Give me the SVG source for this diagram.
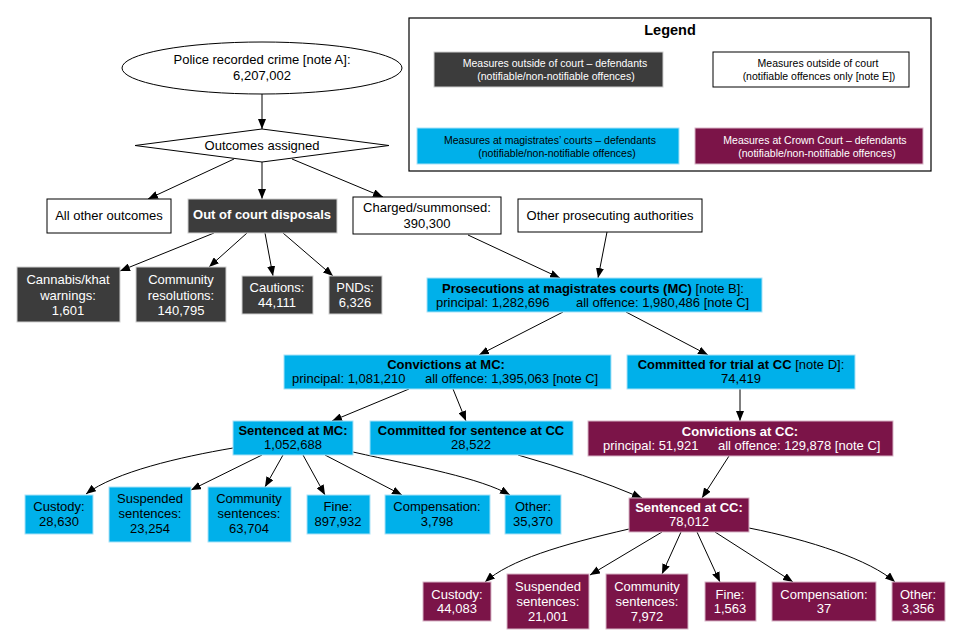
<svg xmlns="http://www.w3.org/2000/svg" width="960" height="640" viewBox="0 0 960 640">
<defs>
<marker id="ah" markerWidth="10" markerHeight="8" refX="10" refY="4" orient="auto" markerUnits="userSpaceOnUse">
<path d="M0,0 L10,4 L0,8 z" fill="#000"/>
</marker>
<style>
text{font-family:"Liberation Sans",Arial,sans-serif;font-size:13px;text-anchor:middle;fill:#000}
.b{font-weight:bold}
.w{fill:#fff}
.s{text-anchor:start}
.lg{font-size:10.5px}
.white{fill:#fff;stroke:#000;stroke-width:1}
.dark{fill:#3c3c3c;stroke:#cfcfcf;stroke-width:1}
.mc{fill:#00b0ea;stroke:#a8e2f7;stroke-width:1}
.cc{fill:#7b1448;stroke:#d7b4c6;stroke-width:1}
.e path,.e line{fill:none;stroke:#000;stroke-width:1;marker-end:url(#ah)}
</style>
</defs>
<rect width="960" height="640" fill="#fff"/>

<g id="legend">
<rect x="409" y="18" width="522" height="153" fill="#fff" stroke="#000" stroke-width="1.2"/>
<text x="670" y="35" class="b" style="font-size:14.5px">Legend</text>
<rect x="434" y="52" width="229" height="35" class="dark"/>
<text x="555" y="67" class="lg w">Measures outside of court – defendants</text>
<text x="556" y="80" class="lg w">(notifiable/non-notifiable offences)</text>
<rect x="713" y="52" width="196" height="35" class="white"/>
<text x="818" y="67" class="lg">Measures outside of court</text>
<text x="819" y="80" class="lg">(notifiable offences only [note E])</text>
<rect x="417" y="128" width="262" height="36" class="mc"/>
<text x="550" y="144" class="lg">Measures at magistrates’ courts – defendants</text>
<text x="557" y="157" class="lg">(notifiable/non-notifiable offences)</text>
<rect x="695" y="128" width="228" height="36" class="cc"/>
<text x="815" y="144" class="lg w">Measures at Crown Court – defendants</text>
<text x="817" y="157" class="lg w">(notifiable/non-notifiable offences)</text>
</g>

<g id="connectors" class="e">
<line x1="262" y1="94" x2="262" y2="129"/>
<line x1="234" y1="159" x2="148" y2="199"/>
<line x1="262" y1="162" x2="262" y2="199"/>
<line x1="292" y1="159" x2="383" y2="197"/>
<line x1="214" y1="233" x2="120" y2="271"/>
<line x1="247" y1="233" x2="209" y2="267"/>
<line x1="265" y1="233" x2="273" y2="276"/>
<line x1="283" y1="233" x2="333" y2="276"/>
<line x1="468" y1="235" x2="560" y2="278"/>
<line x1="607" y1="232" x2="598" y2="278"/>
<line x1="563" y1="312" x2="479" y2="355"/>
<line x1="626" y1="312" x2="708" y2="355"/>
<line x1="409" y1="389" x2="332" y2="421"/>
<line x1="453" y1="389" x2="466" y2="421"/>
<line x1="740" y1="389" x2="740" y2="421"/>
<line x1="729" y1="456" x2="702" y2="498"/>
<path d="M518,455 Q585,474 642,498"/>
<path d="M233,448 C180,457 115,472 86,494"/>
<line x1="262" y1="455" x2="191" y2="490"/>
<line x1="283" y1="455" x2="265" y2="487"/>
<line x1="303" y1="455" x2="325" y2="495"/>
<line x1="325" y1="455" x2="402" y2="495"/>
<path d="M353,452 C420,467 480,478 510,495"/>
<path d="M629,529 C560,545 510,560 485,582"/>
<line x1="662" y1="532" x2="590" y2="575"/>
<line x1="681" y1="532" x2="662" y2="574"/>
<line x1="697" y1="532" x2="720" y2="582"/>
<line x1="715" y1="532" x2="793" y2="582"/>
<path d="M749,528 C810,540 870,560 895,582"/>
</g>

<g id="crime">
<ellipse cx="262" cy="68" rx="140" ry="26" fill="#fff" stroke="#000" stroke-width="1"/>
<text x="262" y="64">Police recorded crime [note A]:</text>
<text x="262" y="80">6,207,002</text>
</g>
<g id="outcomes">
<polygon points="135,145.5 262,129 389,145.5 262,162" fill="#fff" stroke="#000" stroke-width="1"/>
<text x="262" y="150">Outcomes assigned</text>
</g>
<g id="other-outcomes">
<rect x="47" y="199" width="124" height="34" class="white"/>
<text x="109" y="220">All other outcomes</text>
</g>
<g id="ocd">
<rect x="188" y="199" width="149" height="34" class="dark"/>
<text x="262" y="219" class="b w">Out of court disposals</text>
</g>
<g id="charged">
<rect x="353" y="197" width="148" height="37" class="white"/>
<text x="427" y="212">Charged/summonsed:</text>
<text x="427" y="228">390,300</text>
</g>
<g id="other-prosecuting">
<rect x="518" y="199" width="184" height="33" class="white"/>
<text x="610" y="220">Other prosecuting authorities</text>
</g>
<g id="cannabis">
<rect x="17" y="267" width="103" height="55" class="dark"/>
<text x="68" y="284" class="w">Cannabis/khat</text>
<text x="68" y="300" class="w">warnings:</text>
<text x="68" y="315" class="w">1,601</text>
</g>
<g id="community-resolutions">
<rect x="136" y="267" width="90" height="55" class="dark"/>
<text x="181" y="284" class="w">Community</text>
<text x="181" y="300" class="w">resolutions:</text>
<text x="181" y="315" class="w">140,795</text>
</g>
<g id="cautions">
<rect x="242" y="276" width="71" height="38" class="dark"/>
<text x="277" y="292" class="w">Cautions:</text>
<text x="277" y="307" class="w">44,111</text>
</g>
<g id="pnds">
<rect x="329" y="276" width="53" height="38" class="dark"/>
<text x="355" y="292" class="w">PNDs:</text>
<text x="355" y="307" class="w">6,326</text>
</g>
<g id="prosecutions">
<rect x="427" y="278" width="335" height="34" class="mc"/>
<text x="593" y="293"><tspan class="b">Prosecutions at magistrates courts (MC)</tspan> [note B]:</text>
<text x="436" y="307" class="s">principal: 1,282,696</text>
<text x="576" y="307" class="s">all offence: 1,980,486 [note C]</text>
</g>
<g id="convictions-mc">
<rect x="284" y="355" width="327" height="34" class="mc"/>
<text x="446" y="369" class="b">Convictions at MC:</text>
<text x="292" y="383" class="s">principal: 1,081,210</text>
<text x="425" y="383" class="s">all offence: 1,395,063 [note C]</text>
</g>
<g id="committed-trial">
<rect x="627" y="355" width="228" height="34" class="mc"/>
<text x="741" y="369"><tspan class="b">Committed for trial at CC</tspan> [note D]:</text>
<text x="741" y="383">74,419</text>
</g>
<g id="sentenced-mc">
<rect x="233" y="421" width="120" height="34" class="mc"/>
<text x="293" y="435" class="b">Sentenced at MC:</text>
<text x="293" y="449">1,052,688</text>
</g>
<g id="committed-sentence">
<rect x="370" y="421" width="203" height="34" class="mc"/>
<text x="471" y="435" class="b">Committed for sentence at CC</text>
<text x="471" y="449">28,522</text>
</g>
<g id="convictions-cc">
<rect x="588" y="421" width="305" height="35" class="cc"/>
<text x="740" y="436" class="b w">Convictions at CC:</text>
<text x="603" y="450" class="s w">principal: 51,921</text>
<text x="718" y="450" class="s w">all offence: 129,878 [note C]</text>
</g>
<g id="sentenced-cc">
<rect x="629" y="498" width="120" height="34" class="cc"/>
<text x="689" y="512" class="b w">Sentenced at CC:</text>
<text x="689" y="526" class="w">78,012</text>
</g>

<g id="mc-custody">
<rect x="25" y="495" width="68" height="39" class="mc"/>
<text x="59" y="511">Custody:</text>
<text x="59" y="526">28,630</text>
</g>
<g id="mc-suspended">
<rect x="109" y="487" width="82" height="55" class="mc"/>
<text x="150" y="503">Suspended</text>
<text x="150" y="518">sentences:</text>
<text x="150" y="533">23,254</text>
</g>
<g id="mc-community">
<rect x="208" y="487" width="83" height="55" class="mc"/>
<text x="249" y="503">Community</text>
<text x="249" y="518">sentences:</text>
<text x="249" y="533">63,704</text>
</g>
<g id="mc-fine">
<rect x="307" y="495" width="63" height="39" class="mc"/>
<text x="338" y="511">Fine:</text>
<text x="338" y="526">897,932</text>
</g>
<g id="mc-compensation">
<rect x="385" y="495" width="105" height="39" class="mc"/>
<text x="437" y="511">Compensation:</text>
<text x="437" y="526">3,798</text>
</g>
<g id="mc-other">
<rect x="505" y="495" width="56" height="39" class="mc"/>
<text x="533" y="511">Other:</text>
<text x="533" y="526">35,370</text>
</g>

<g id="cc-custody">
<rect x="423" y="582" width="68" height="39" class="cc"/>
<text x="457" y="599" class="w">Custody:</text>
<text x="457" y="613" class="w">44,083</text>
</g>
<g id="cc-suspended">
<rect x="507" y="574" width="82" height="55" class="cc"/>
<text x="548" y="591" class="w">Suspended</text>
<text x="548" y="606" class="w">sentences:</text>
<text x="548" y="621" class="w">21,001</text>
</g>
<g id="cc-community">
<rect x="606" y="574" width="82" height="55" class="cc"/>
<text x="647" y="591" class="w">Community</text>
<text x="647" y="606" class="w">sentences:</text>
<text x="647" y="621" class="w">7,972</text>
</g>
<g id="cc-fine">
<rect x="705" y="582" width="51" height="39" class="cc"/>
<text x="730" y="599" class="w">Fine:</text>
<text x="730" y="613" class="w">1,563</text>
</g>
<g id="cc-compensation">
<rect x="772" y="582" width="104" height="39" class="cc"/>
<text x="824" y="599" class="w">Compensation:</text>
<text x="824" y="613" class="w">37</text>
</g>
<g id="cc-other">
<rect x="892" y="582" width="53" height="39" class="cc"/>
<text x="918" y="599" class="w">Other:</text>
<text x="918" y="613" class="w">3,356</text>
</g>
</svg>
